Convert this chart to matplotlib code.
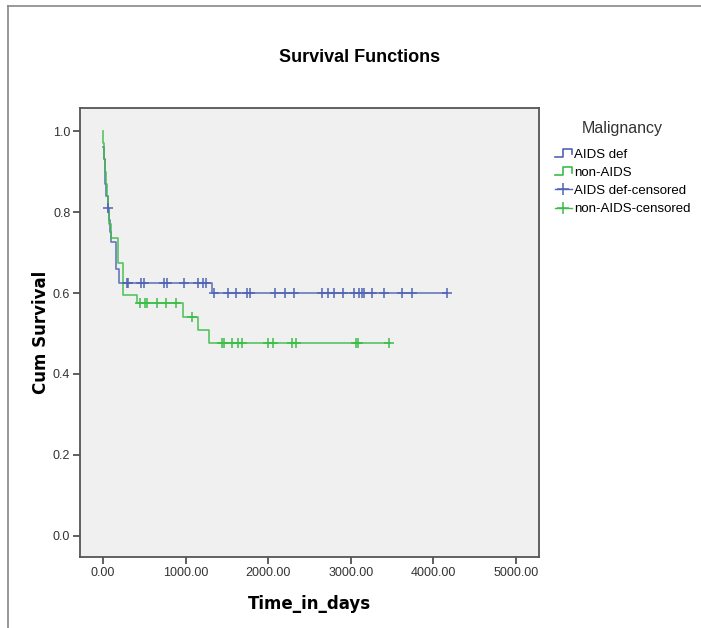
import matplotlib
matplotlib.use('Agg')
import matplotlib.pyplot as plt
from matplotlib.lines import Line2D
from matplotlib.legend_handler import HandlerBase

# Kaplan-Meier step curves (time in days, cumulative survival)
aids_t = [0, 10, 20, 30, 40, 55, 70, 85, 100, 160, 200, 1320, 4170]
aids_s = [0.96, 0.93, 0.90, 0.87, 0.84, 0.81, 0.78, 0.75, 0.726, 0.66, 0.625, 0.60, 0.60]
aids_cens_t = [60, 290, 300, 460, 495, 740, 775, 980, 1150, 1210, 1250,
               1340, 1510, 1610, 1740, 1780, 2080, 2200, 2310, 2650, 2725, 2795,
               2905, 3040, 3100, 3135, 3160, 3255, 3400, 3620, 3740, 4165]
aids_cens_s = [0.81] + [0.625] * 10 + [0.60] * 21

non_t = [0, 5, 15, 25, 35, 45, 60, 75, 95, 180, 245, 410, 968, 1150, 1283, 3480]
non_s = [1.0, 0.97, 0.93, 0.90, 0.87, 0.84, 0.80, 0.77, 0.736, 0.674, 0.595,
         0.575, 0.54, 0.508, 0.476, 0.476]
non_cens_t = [450, 510, 530, 650, 760, 885, 1080,
              1440, 1465, 1565, 1635, 1685, 2000, 2060, 2290, 2340, 3065, 3090, 3465]
non_cens_s = [0.575] * 6 + [0.54] + [0.476] * 12

x_ticks = [0, 1000, 2000, 3000, 4000, 5000]
y_ticks = [0.0, 0.2, 0.4, 0.6, 0.8, 1.0]

blue = '#5064b4'
green = '#3cbc48'


class StepHandler(HandlerBase):
    """Legend icon drawn as a small step, like SPSS does."""
    def create_artists(self, legend, orig_handle, xdescent, ydescent,
                       width, height, fontsize, trans):
        x0, x1 = -xdescent, -xdescent + width
        ym = -ydescent + height * 0.5
        xs = [x0, x0 + width * 0.45, x0 + width * 0.45, x1, x1]
        ys = [ym - 3, ym - 3, ym + 3, ym + 3, ym - 1]
        ln = Line2D(xs, ys, color=orig_handle.get_color(), lw=1.2, transform=trans)
        return [ln]


fig = plt.figure(figsize=(7.01, 6.28), dpi=100)
ax = fig.add_axes([80 / 701, 1 - 557 / 628, 459 / 701, 449 / 628])
ax.set_facecolor('#f0f0f0')

ax.step(aids_t, aids_s, where='post', color=blue, lw=1.2, alpha=0.85)
ax.step(non_t, non_s, where='post', color=green, lw=1.2, alpha=0.85)
ax.plot(aids_cens_t, aids_cens_s, ls='none', marker='+', ms=7.5, mew=1.1, color=blue)
ax.plot(non_cens_t, non_cens_s, ls='none', marker='+', ms=7.5, mew=1.1, color=green)

ax.set_xlim(-278, 5278)
ax.set_ylim(-0.052, 1.057)
ax.set_xticks(x_ticks)
ax.set_xticklabels(['%.2f' % v for v in x_ticks])
ax.set_yticks(y_ticks)
ax.set_yticklabels(['%.1f' % v for v in y_ticks])
ax.tick_params(direction='out', length=5, width=1.2, color='#444444',
               labelsize=9, labelcolor='#333333', pad=2)
for lab in ax.get_xticklabels() + ax.get_yticklabels():
    lab.set_family('Liberation Sans')
for sp in ax.spines.values():
    sp.set_color('#555555')
    sp.set_linewidth(1.3)

ax.set_xlabel('Time_in_days', fontsize=12, fontweight='bold', family='DejaVu Sans', labelpad=12)
ax.set_ylabel('Cum Survival', fontsize=12, fontweight='bold', family='DejaVu Sans', labelpad=2)
fig.text(360 / 701, 1 - 57 / 628, 'Survival Functions', ha='center', va='center',
         fontsize=13, fontweight='bold', family='Liberation Sans')

handles = [Line2D([], [], color=blue), Line2D([], [], color=green),
           Line2D([], [], color=blue, marker='+', ms=9, mew=1.1, lw=1.0),
           Line2D([], [], color=green, marker='+', ms=9, mew=1.1, lw=1.0)]
labels = ['AIDS def', 'non-AIDS', 'AIDS def-censored', 'non-AIDS-censored']
leg = fig.legend(handles, labels, loc='upper left', bbox_to_anchor=(543 / 701, 1 - 109 / 628),
                 frameon=False, title='Malignancy', handlelength=1.3, handletextpad=0.15,
                 labelspacing=0.45, prop={'family': 'Liberation Sans', 'size': 9.5},
                 handler_map={handles[0]: StepHandler(), handles[1]: StepHandler()})
leg.get_title().set_fontsize(11.5)
leg.get_title().set_family('Liberation Sans')
leg.get_title().set_color('#333333')
leg._legend_box.align = 'center'
leg._legend_box.sep = 9

# outer frame (left and top edges of the original chart border)
fig.add_artist(Line2D([8 / 701, 8 / 701], [0, 1 - 6 / 628], color='#888888', lw=1.2))
fig.add_artist(Line2D([8 / 701, 1], [1 - 6 / 628, 1 - 6 / 628], color='#888888', lw=1.2))

fig.savefig('out.png', dpi=100)
